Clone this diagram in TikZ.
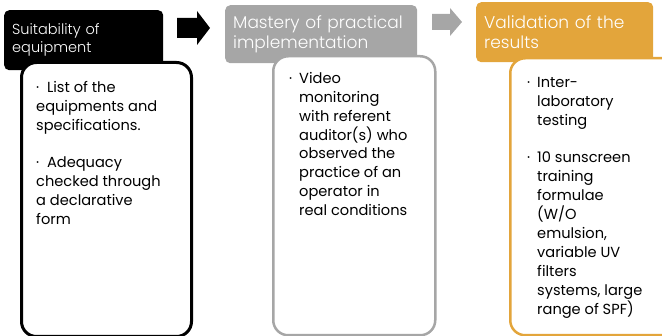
\documentclass[tikz,border=0pt]{standalone}
\usepackage{fontspec}
\setmainfont{Poppins}
\newfontfamily\lightfont{Poppins Light}
\usetikzlibrary{calc}
\definecolor{midgray}{HTML}{A6A6A6}
\definecolor{amber}{HTML}{E3A53B}
% block arrow: start point (left, middle), shaft half-height, head half-height, shaft length, head length
\def\blockarrow[#1](#2,#3)(#4:#5:#6:#7){\fill[#1] (#2,#3) -- ++(0,-#4) -- ++(#6,0) -- ++(0,{-(#5-#4)}) -- ++(#7,#5) -- ++(-#7,#5) -- ++(0,{-(#5-#4)}) -- ++(-#6,0) -- cycle;}

\begin{document}
\begin{tikzpicture}[x=1pt,y=-1pt,
	header/.style={anchor=north west, rounded corners=5pt, text=white, align=left, inner sep=8pt,
		font=\lightfont\fontsize{17}{19.5}\selectfont},
	panel/.style={anchor=north west, fill=white, rounded corners=15pt, line width=2.5pt},
	bullets/.style={anchor=north west, align=left, inner sep=0pt, font=\fontsize{14.6}{18.9}\selectfont}]
		%%%%% START %%%%%
		\useasboundingbox (0,0) rectangle (662,336);
		
		\node[header, fill=black, minimum width=159pt, minimum height=60pt, text width=143pt,
			font=\lightfont\fontsize{14.5}{18}\selectfont] (h1) at (4,10) {Suitability of\\equipment};
		\node[panel, draw=black, line width=3pt, minimum width=170pt, minimum height=274pt] (b1) at (20,61) {};
		\node[bullets] (t1) at (36,81) {·\ \ List of the\\equipments and\\specifications.\\\mbox{}\\·\ \ Adequacy\\checked through\\a declarative\\form};
		
		\blockarrow[black](177,28)(10:17:20:13)
		
		\node[header, fill=midgray, minimum width=192pt, minimum height=58pt, text width=176pt] (h2) at (225,5) {Mastery of practical\\implementation};
		\node[panel, draw=midgray, minimum width=162pt, minimum height=279pt] (b2) at (272,55) {};
		\node[bullets] (t2) at (299,72) {\llap{·\hspace{7pt}}Video\\monitoring\\with referent\\auditor(s) who\\observed the\\practice of an\\operator in\\real conditions};
		
		\blockarrow[midgray](432,22)(8:14:18:12)
		
		\node[header, fill=amber, minimum width=177pt, minimum height=60pt, text width=161pt] (h3) at (476,2) {Validation of the\\results};
		\node[panel, draw=amber, minimum width=170pt, minimum height=277pt] (b3) at (509,57) {};
		\node[bullets] (t3) at (537,77) {\llap{·\hspace{7pt}}Inter-\\laboratory\\testing\\\mbox{}\\\llap{·\hspace{7pt}}10 sunscreen\\training\\formulae\\(W/O\\emulsion,\\variable UV\\filters\\systems, large\\range of SPF)};
		
		%%%%% END %%%%%
\end{tikzpicture}
\end{document}
